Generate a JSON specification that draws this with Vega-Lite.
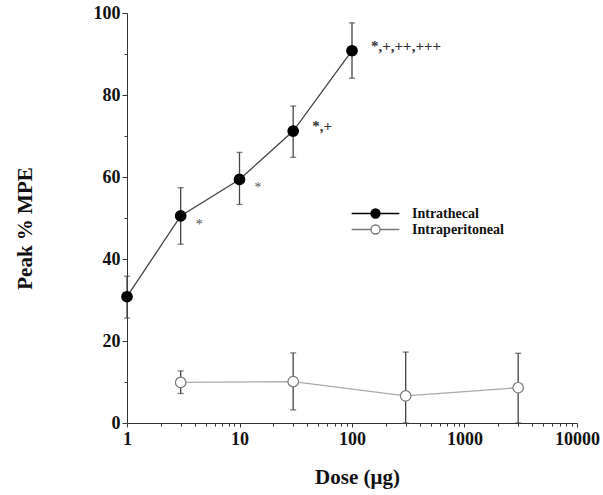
{
  "$schema": "https://vega.github.io/schema/vega-lite/v6.json",
  "width": 450,
  "height": 410,
  "autosize": "none",
  "padding": {"left": 127, "top": 13, "right": 26, "bottom": 72},
  "background": "white",
  "config": {
    "view": {"stroke": null},
    "font": "Liberation Serif",
    "axis": {"labelFont": "Liberation Serif", "titleFont": "Liberation Serif", "labelFontWeight": "bold", "titleFontWeight": "bold", "labelColor": "#111", "titleColor": "#111", "domainColor": "#333", "tickColor": "#333", "grid": false}
  },
  "data": {
    "values": [
      {"group": "Intrathecal", "dose": 1, "mean": 30.8, "lo": 25.6, "hi": 35.8, "sig": null},
      {"group": "Intrathecal", "dose": 3, "mean": 50.5, "lo": 43.6, "hi": 57.4, "sig": "*"},
      {"group": "Intrathecal", "dose": 10, "mean": 59.4, "lo": 53.3, "hi": 66.0, "sig": "*"},
      {"group": "Intrathecal", "dose": 30, "mean": 71.2, "lo": 64.8, "hi": 77.3, "sig": "*,+"},
      {"group": "Intrathecal", "dose": 100, "mean": 90.8, "lo": 84.1, "hi": 97.6, "sig": "*,+,++,+++"},
      {"group": "Intraperitoneal", "dose": 3, "mean": 9.9, "lo": 7.2, "hi": 12.7, "sig": null},
      {"group": "Intraperitoneal", "dose": 30, "mean": 10.1, "lo": 3.2, "hi": 17.1, "sig": null},
      {"group": "Intraperitoneal", "dose": 300, "mean": 6.6, "lo": 0, "hi": 17.3, "sig": null},
      {"group": "Intraperitoneal", "dose": 3000, "mean": 8.6, "lo": 0, "hi": 17.0, "sig": null}
    ]
  },
  "encoding": {
    "x": {
      "field": "dose", "type": "quantitative",
      "scale": {"type": "log", "domain": [1, 10000], "nice": false},
      "axis": {
        "title": "Dose (μg)", "titleFontSize": 21, "titleX": 230, "titleY": 54, "titleBaseline": "middle",
        "values": [1,2,3,4,5,6,7,8,9,10,20,30,40,50,60,70,80,90,100,200,300,400,500,600,700,800,900,1000,2000,3000,4000,5000,6000,7000,8000,9000,10000],
        "format": "d",
        "labelExpr": "indexof([1,10,100,1000,10000], datum.value) >= 0 ? datum.label : ''",
        "labelFontSize": 18, "labelPadding": 3, "labelFlush": false, "labelOverlap": false,
        "tickSize": {"condition": {"test": "indexof([1,10,100,1000,10000], datum.value) >= 0", "value": 4}, "value": 3}
      }
    },
    "y": {
      "field": "mean", "type": "quantitative",
      "scale": {"domain": [0, 100], "nice": false},
      "axis": {
        "title": "Peak % MPE", "titleFontSize": 21, "titleX": -102, "titleY": 215, "titleBaseline": "middle", "titleAngle": -90,
        "values": [0,10,20,30,40,50,60,70,80,90,100],
        "labelExpr": "datum.value % 20 == 0 ? datum.label : ''",
        "labelFontSize": 18, "labelPadding": 2, "labelFlush": false, "labelOverlap": false,
        "tickSize": {"condition": {"test": "datum.value % 20 == 0", "value": 5}, "value": 3}
      }
    }
  },
  "layer": [
    {
      "mark": {"type": "line", "strokeWidth": 1.3},
      "encoding": {
        "detail": {"field": "group", "type": "nominal"},
        "color": {"condition": {"test": "datum.group == 'Intrathecal'", "value": "#444444"}, "value": "#aaaaaa"}
      }
    },
    {
      "mark": {"type": "errorbar", "color": "#444444", "thickness": 1.3, "ticks": {"size": 6, "color": "#444444", "thickness": 1.3}},
      "encoding": {
        "y": {"field": "lo", "type": "quantitative"},
        "y2": {"field": "hi"}
      }
    },
    {
      "mark": {"type": "point", "shape": "circle", "size": 110, "strokeWidth": 1.2, "opacity": 1},
      "encoding": {
        "fill": {"field": "group", "type": "nominal", "title": "Group", "scale": {"domain": ["Intrathecal", "Intraperitoneal"], "range": ["#000000", "#ffffff"]},
          "legend": {
            "title": null, "orient": "none", "legendX": 241.5, "legendY": 193.5,
            "symbolType": "M-5.3,0H-1M1,0H5.3M-1,0A1,1 0 1,1 1,0A1,1 0 1,1 -1,0Z",
            "symbolSize": 81, "symbolStrokeWidth": 1.3, "labelOffset": 29.5, "rowPadding": 0,
            "labelFont": "Liberation Serif", "labelFontWeight": "bold", "labelFontSize": 14, "labelColor": "#111"
          }
        },
        "stroke": {"field": "group", "type": "nominal", "title": "Group", "scale": {"domain": ["Intrathecal", "Intraperitoneal"], "range": ["#000000", "#777777"]},
          "legend": {
            "title": null, "orient": "none", "legendX": 241.5, "legendY": 193.5,
            "symbolType": "M-5.3,0H-1M1,0H5.3M-1,0A1,1 0 1,1 1,0A1,1 0 1,1 -1,0Z",
            "symbolSize": 81, "symbolStrokeWidth": 1.3, "labelOffset": 29.5, "rowPadding": 0,
            "labelFont": "Liberation Serif", "labelFontWeight": "bold", "labelFontSize": 14, "labelColor": "#111"
          }
        }
      }
    },
    {
      "transform": [{"filter": "datum.sig == '*'"}],
      "mark": {"type": "text", "align": "left", "baseline": "middle", "dx": 15, "dy": 9, "fontSize": 14, "color": "#555555"},
      "encoding": {"text": {"field": "sig"}}
    },
    {
      "transform": [{"filter": "datum.sig != null && datum.sig != '*'"}],
      "mark": {"type": "text", "align": "left", "baseline": "middle", "dx": 19, "dy": -5, "fontSize": 15, "color": "#333333", "fontWeight": "bold"},
      "encoding": {"text": {"field": "sig"}}
    }
  ]
}
